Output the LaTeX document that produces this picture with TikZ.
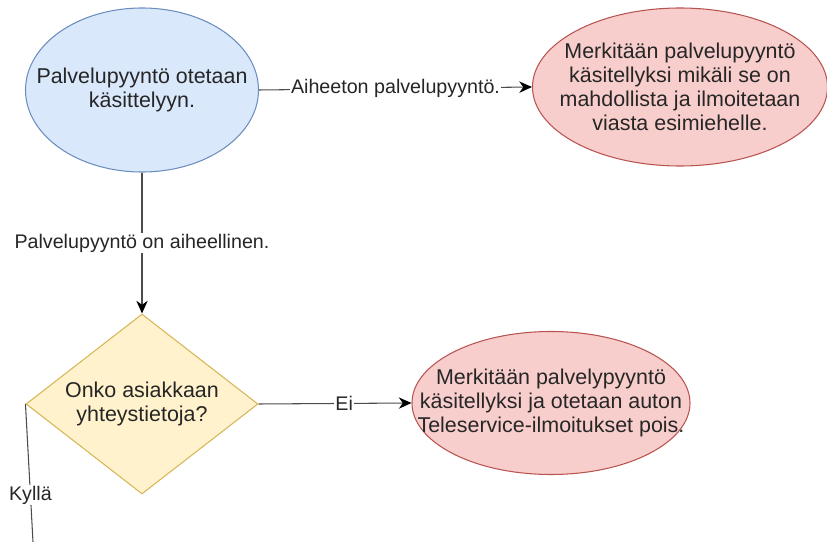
\documentclass[tikz,border=0pt]{standalone}
\usepackage{fontspec}
\setmainfont{Liberation Sans}
\usepackage{xcolor}
\definecolor{StartBlue}{HTML}{DAE8FC}
\definecolor{StartBlueLine}{HTML}{6C8EBF}
\definecolor{EndRed}{HTML}{F8CECC}
\definecolor{EndRedLine}{HTML}{B85450}
\definecolor{AskGold}{HTML}{FFF2CC}
\definecolor{AskGoldLine}{HTML}{D6B656}
\usetikzlibrary{arrows.meta, shapes.geometric}

\begin{document}
\begin{tikzpicture}[
    >={Stealth[length=3.8mm, width=3.4mm, inset=1.2mm, black]},
    % Styles
    box_text/.style={font=\fontsize{18.3}{20.5}\selectfont, align=center, text=black!85},
    edge_text/.style={font=\fontsize{16.8}{19}\selectfont, fill=white, inner sep=1pt, text=black!85},
    start_oval/.style={ellipse, draw=StartBlueLine, line width=0.9pt, fill=StartBlue, minimum width=6.99cm, minimum height=4.92cm},
    end_oval/.style={ellipse, draw=EndRedLine, line width=0.9pt, fill=EndRed},
    ask_box/.style={diamond, draw=AskGoldLine, line width=0.9pt, fill=AskGold, minimum width=6.96cm, minimum height=5.4cm, inner sep=0pt},
    flow/.style={draw=black!70, line width=0.9pt}
]
    \useasboundingbox (0,0) rectangle (24.81,-16.26);

    % 1. START
    \node[start_oval] (start) at (4.26, -2.70) {};
    \node[box_text] (start_txt) at (start.center) {Palvelupyyntö otetaan\\käsittelyyn.};

    % 2. NOT RELEVANT
    \node[end_oval, minimum width=8.85cm, minimum height=4.74cm] (reject) at (20.40, -2.61) {};
    \node[box_text] (reject_txt) at (reject.center) {Merkitään palvelupyyntö\\käsitellyksi mikäli se on\\mahdollista ja ilmoitetaan\\viasta esimiehelle.};

    % 3. DECISION
    \node[ask_box] (ask) at (4.26, -12.12) {};
    \node[box_text] (ask_txt) at (ask.center) {Onko asiakkaan\\yhteystietoja?};

    % 4. NO CONTACT INFO
    \node[end_oval, minimum width=8.34cm, minimum height=4.29cm] (nocontact) at (16.53, -12.09) {};
    \node[box_text] (nocontact_txt) at (nocontact.center) {Merkitään palvelypyyntö\\käsitellyksi ja otetaan auton\\Teleservice-ilmoitukset pois.};

    \coordinate (yes_end) at (0.99, -16.26);

    % Connectors
    \draw[flow, ->] (start.east) -- (reject.west) node[midway, edge_text] {Aiheeton palvelupyyntö.};
    \draw[flow, ->] (start.south) -- (ask.north) node[midway, edge_text] {Palvelupyyntö on aiheellinen.};
    \draw[flow, ->] (ask.east) -- (nocontact.west) node[pos=0.56, edge_text] {Ei};
    \draw[flow] (ask.west) -- (yes_end) node[pos=0.66, edge_text] {Kyllä};

\end{tikzpicture}
\end{document}
